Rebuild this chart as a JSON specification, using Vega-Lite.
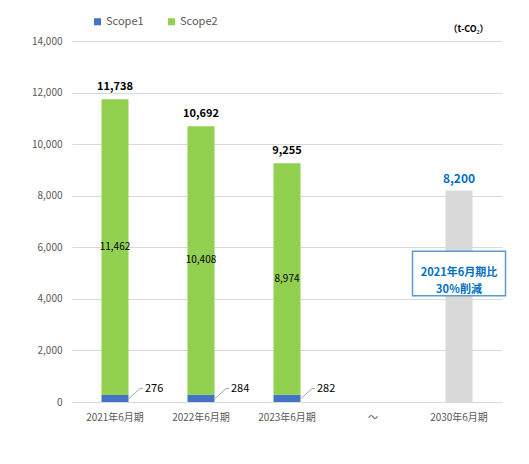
{
  "$schema": "https://vega.github.io/schema/vega-lite/v6.json",
  "width": 430,
  "height": 361,
  "autosize": "none",
  "padding": {"left": 72, "top": 41, "right": 27, "bottom": 62},
  "background": "white",
  "config": {
    "view": {"stroke": null},
    "font": "Noto Sans CJK JP",
    "legend": {
      "orient": "none",
      "legendX": 20,
      "legendY": -25,
      "direction": "horizontal",
      "symbolType": "square",
      "symbolSize": 50,
      "labelColor": "#595959",
      "labelFontSize": 11,
      "columnPadding": 22,
      "labelOffset": 3
    }
  },
  "datasets": {
    "stack": [
      {"period": "2021年6月期", "scope": "Scope1", "ord": 1, "value": 276},
      {"period": "2021年6月期", "scope": "Scope2", "ord": 2, "value": 11462},
      {"period": "2022年6月期", "scope": "Scope1", "ord": 1, "value": 284},
      {"period": "2022年6月期", "scope": "Scope2", "ord": 2, "value": 10408},
      {"period": "2023年6月期", "scope": "Scope1", "ord": 1, "value": 282},
      {"period": "2023年6月期", "scope": "Scope2", "ord": 2, "value": 8974}
    ],
    "totals": [
      {"period": "2021年6月期", "total": 11738},
      {"period": "2022年6月期", "total": 10692},
      {"period": "2023年6月期", "total": 9255}
    ],
    "target": [
      {"period": "2030年6月期", "value": 8200}
    ]
  },
  "encoding": {
    "x": {
      "field": "period",
      "type": "nominal",
      "title": null,
      "scale": {
        "domain": ["2021年6月期", "2022年6月期", "2023年6月期", "～", "2030年6月期"],
        "paddingInner": 0,
        "paddingOuter": 0
      },
      "axis": {
        "labelAngle": 0,
        "labelColor": "#595959",
        "labelFontSize": 10,
        "labelPadding": 10,
        "domain": false,
        "ticks": false,
        "grid": false
      }
    }
  },
  "layer": [
    {
      "data": {"name": "stack"},
      "mark": {"type": "bar", "width": 27},
      "encoding": {
        "y": {
          "field": "value",
          "type": "quantitative",
          "stack": "zero",
          "title": "（t-CO₂）",
          "scale": {"domain": [0, 14000]},
          "axis": {
            "values": [0, 2000, 4000, 6000, 8000, 10000, 12000, 14000],
            "labelExpr": "format(datum.value, ',')",
            "labelColor": "#595959",
            "labelFontSize": 10,
            "labelPadding": 10,
            "domain": false,
            "ticks": false,
            "gridColor": "#d9d9d9",
            "gridWidth": 1,
            "titleAngle": 0,
            "titleX": 416,
            "titleY": -13,
            "titleAlign": "right",
            "titleBaseline": "middle",
            "titleFontSize": 9,
            "titleFontWeight": "bold",
            "titleColor": "#000000"
          }
        },
        "color": {
          "field": "scope",
          "type": "nominal",
          "title": null,
          "scale": {"domain": ["Scope1", "Scope2"], "range": ["#4472c4", "#92d050"]}
        },
        "order": {"field": "ord", "type": "quantitative"}
      }
    },
    {
      "data": {"name": "target"},
      "mark": {"type": "bar", "width": 27, "color": "#d9d9d9"},
      "encoding": {
        "y": {"field": "value", "type": "quantitative"}
      }
    },
    {
      "data": {"name": "totals"},
      "mark": {"type": "text", "dy": -12, "fontSize": 11, "fontWeight": "bold", "color": "#000000"},
      "encoding": {
        "y": {"field": "total", "type": "quantitative"},
        "text": {"field": "total", "type": "quantitative", "format": ","}
      }
    },
    {
      "data": {"name": "stack"},
      "transform": [
        {"stack": "value", "groupby": ["period"], "sort": [{"field": "ord"}], "as": ["v0", "v1"]},
        {"filter": "datum.scope === 'Scope2'"},
        {"calculate": "(datum.v0 + datum.v1) / 2", "as": "mid"}
      ],
      "mark": {"type": "text", "fontSize": 10, "color": "#000000"},
      "encoding": {
        "y": {"field": "mid", "type": "quantitative"},
        "text": {"field": "value", "type": "quantitative", "format": ","}
      }
    },
    {
      "data": {"name": "stack"},
      "transform": [{"filter": "datum.scope === 'Scope1'"}],
      "mark": {"type": "rule", "xOffset": 13.5, "x2Offset": 25, "color": "#a6a6a6", "strokeWidth": 1},
      "encoding": {
        "x2": {"field": "period"},
        "y": {"datum": 120, "type": "quantitative"},
        "y2": {"datum": 520}
      }
    },
    {
      "data": {"name": "stack"},
      "transform": [{"filter": "datum.scope === 'Scope1'"}],
      "mark": {"type": "rule", "xOffset": 25, "x2Offset": 28, "color": "#a6a6a6", "strokeWidth": 1},
      "encoding": {
        "x2": {"field": "period"},
        "y": {"datum": 520, "type": "quantitative"}
      }
    },
    {
      "data": {"name": "stack"},
      "transform": [{"filter": "datum.scope === 'Scope1'"}],
      "mark": {"type": "text", "align": "left", "dx": 30, "fontSize": 11, "color": "#000000"},
      "encoding": {
        "y": {"datum": 520, "type": "quantitative"},
        "text": {"field": "value", "type": "quantitative"}
      }
    },
    {
      "data": {"name": "target"},
      "mark": {"type": "text", "dy": -12, "fontSize": 12, "fontWeight": "bold", "color": "#0070c0"},
      "encoding": {
        "y": {"field": "value", "type": "quantitative"},
        "text": {"field": "value", "type": "quantitative", "format": ","}
      }
    },
    {
      "data": {"name": "target"},
      "mark": {"type": "bar", "width": 93, "fill": "white", "stroke": "#5b9bd5", "strokeWidth": 1.5},
      "encoding": {
        "y": {"datum": 4120, "type": "quantitative"},
        "y2": {"datum": 5850}
      }
    },
    {
      "data": {"name": "target"},
      "mark": {
        "type": "text",
        "fontSize": 11,
        "fontWeight": "bold",
        "color": "#0070c0",
        "lineHeight": 17,
        "baseline": "middle",
        "text": ["2021年6月期比", "30％削減"]
      },
      "encoding": {
        "y": {"datum": 4985, "type": "quantitative"}
      }
    }
  ]
}
